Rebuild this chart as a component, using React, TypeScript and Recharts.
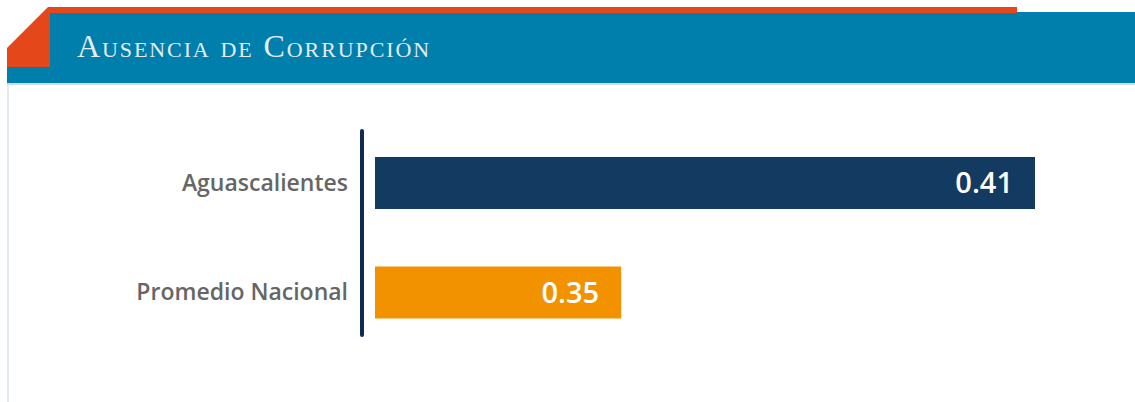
import { BarChart, Bar, XAxis, YAxis, Cell, LabelList } from "recharts";

const title = "Ausencia de Corrupción";
const categories = ["Aguascalientes", "Promedio Nacional"];
const values = [0.41, 0.35];
const barColors = ["#133a60", "#f29200"];

const data = categories.map((name, i) => ({ name, value: values[i] }));

function Header() {
  return (
    <svg
      width={1135}
      height={90}
      style={{ position: "absolute", left: 0, top: 0 }}
    >
      {/* blue band */}
      <rect x={50} y={12} width={1085} height={71} fill="#007fac" />
      <rect x={7} y={66} width={43} height={17} fill="#007fac" />
      <rect x={7} y={83} width={1128} height={2} fill="#c9dcea" />
      {/* orange corner + top strip */}
      <polygon
        points="7,48 48,7 1017,7 1017,13 50,13 50,67 7,67"
        fill="#e4471a"
      />
      <text
        x={77}
        y={57}
        fill="#e3edf2"
        fontFamily="'Liberation Serif', serif"
        fontSize={32}
        letterSpacing={1.9}
        style={{ fontVariant: "small-caps" }}
      >
        {title}
      </text>
    </svg>
  );
}

export default function App() {
  return (
    <div
      style={{
        position: "absolute",
        left: 0,
        top: 0,
        width: 1135,
        height: 402,
        background: "#fff",
        overflow: "hidden",
      }}
    >
      <div
        style={{
          position: "absolute",
          left: 7,
          top: 84,
          width: 2,
          height: 318,
          background: "#e3ebf0",
        }}
      />
      <BarChart
        width={1135}
        height={402}
        data={data}
        layout="vertical"
        margin={{ top: 131, right: 100, bottom: 67, left: 0 }}
      >
        <XAxis
          type="number"
          hide
          domain={[0.3143, 0.41]}
          allowDataOverflow
          padding={{ left: 13, right: 0 }}
        />
        <YAxis
          type="category"
          dataKey="name"
          width={362}
          axisLine={{ stroke: "#0f2c50", strokeWidth: 4, strokeLinecap: "round" }}
          tickLine={false}
          tickMargin={8}
          padding={{ top: -3, bottom: -12 }}
          tick={{
            fontSize: 23,
            fill: "#666666",
            fontFamily: "'Open Sans', sans-serif",
            fontWeight: 600,
          }}
        />
        <Bar dataKey="value" barSize={52} isAnimationActive={false}>
          {data.map((d, i) => (
            <Cell key={d.name} fill={barColors[i]} />
          ))}
          <LabelList
            dataKey="value"
            position="insideRight"
            offset={22}
            formatter={(v: number) => v.toFixed(2)}
            style={{
              fill: "#ffffff",
              fontSize: 29,
              fontWeight: 600,
              fontFamily: "'Open Sans', sans-serif",
            }}
          />
        </Bar>
      </BarChart>
      <Header />
    </div>
  );
}
